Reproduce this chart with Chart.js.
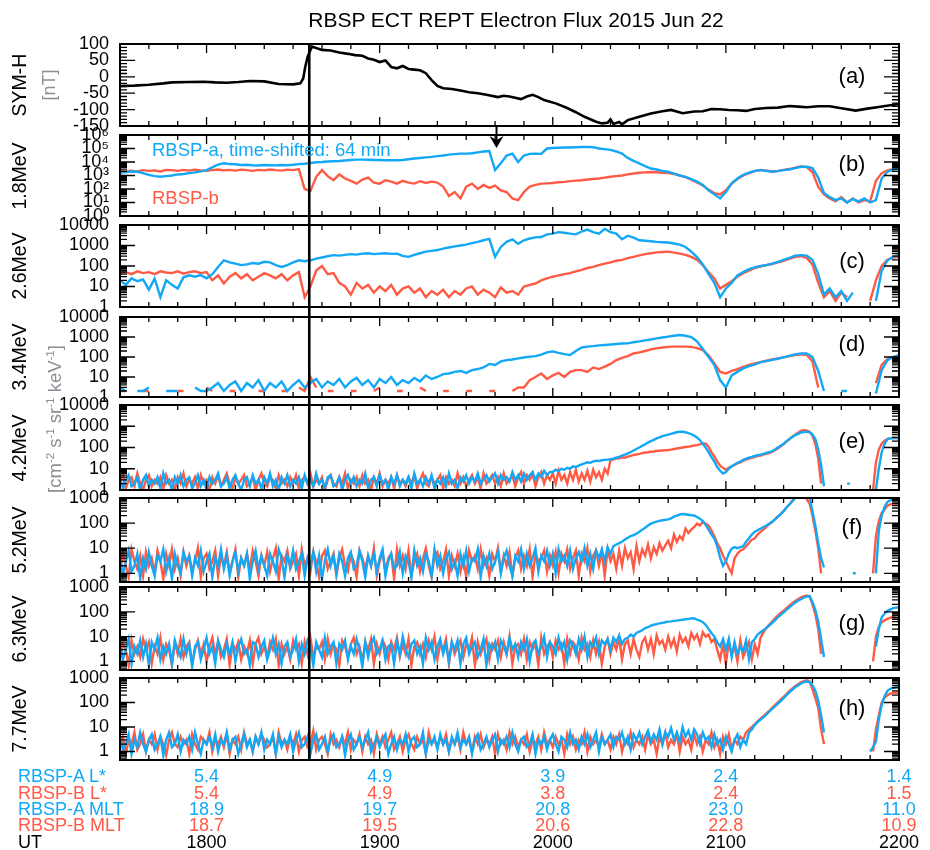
<!DOCTYPE html>
<html><head><meta charset="utf-8">
<script src="https://cdn.jsdelivr.net/npm/chart.js@4.4.1/dist/chart.umd.min.js"></script>
<style>
body{margin:0;background:#fff;}
#wrap{position:relative;width:930px;height:850px;overflow:hidden;font-family:"Liberation Sans",Arial,sans-serif;}
#wrap canvas{position:absolute;left:0;}
.t{position:absolute;white-space:nowrap;line-height:1;z-index:5;}
.t sup{font-size:0.62em;vertical-align:0.55em;line-height:0;}
</style></head><body><div id="wrap"></div>
<script>
// ---------------- DATA ----------------
const X_MIN = 1050, X_MAX = 1320;          // UT minutes (17:30 .. 22:00)
const eventTime = 1115.6;                  // vertical line (shock arrival)
const arrowTime = 1180.5;                  // arrow in panel (b)

const symhTime = [1050,1055,1060,1065,1068,1074,1079,1083,1087,1091,1095,1100,1105,1110,1112.5,1113.5,1114.2,1115,1116.5,1118,1120,1123,1126,1129,1131.5,1134,1136,1138,1140,1142,1144,1146,1148,1150,1152,1154,1156,1158,1160,1162,1165,1168,1171,1174,1177,1181,1183,1185,1189,1191,1193,1195,1197,1201,1205,1208,1211,1215,1217,1219,1220,1221,1223,1224,1226,1230,1234,1238,1241,1245,1249,1252,1255,1258,1261,1264,1267,1270,1274,1278,1282,1285,1288,1292,1296,1300,1305,1309,1313,1317,1320];
const symhValue = [-28,-27,-24,-20,-17,-16,-15,-17,-18,-16,-13,-14,-22,-23,-20,-5,30,60,92,88,82,80,74,70,66,64,56,52,45,50,30,26,33,24,22,20,11,-10,-28,-35,-37,-42,-47,-50,-55,-62,-58,-60,-68,-60,-55,-62,-71,-81,-95,-108,-122,-137,-142,-140,-130,-144,-138,-145,-132,-122,-112,-105,-101,-111,-106,-105,-98,-99,-101,-102,-104,-98,-95,-94,-89,-91,-93,-90,-90,-96,-103,-97,-92,-87,-83];

// 2-min samples (1.8, 2.6, 3.4 MeV) and 1-min samples (4.2 .. 7.7 MeV)
const fluxTime2 = [];
for (let t = X_MIN; t <= X_MAX; t += 2) fluxTime2.push(t);
const fluxTime1 = [];
for (let t = X_MIN; t <= X_MAX; t += 1) fluxTime1.push(t);

const flux18A = [1600,1800,2000,1900,1500,1100,900,800,900,1000,
 1200,1300,1500,1700,2000,2500,4000,6500,8000,7000,
 6800,6000,6200,5700,5500,6000,5800,5600,6000,5800,
 6300,7000,7500,8500,9500,10000,11000,11500,12000,13000,
 14000,15000,15000,14500,14000,14000,13500,13500,13500,14000,
 16000,18000,20000,22000,24000,27000,30000,35000,38000,42000,
 42000,45000,52000,60000,66000,2500,8000,30000,42000,10000,
 30000,40000,42000,40000,100000,110000,115000,118000,120000,125000,
 130000,132000,125000,100000,90000,80000,60000,42000,20000,12000,
 8000,5000,3300,2800,2200,1900,1400,1000,800,550,
 350,200,80,40,20,60,260,600,1100,1600,
 2200,2500,2200,1900,2100,2500,2800,3500,4400,4400,
 3500,700,50,25,15,20,10,18,12,20,
 10,15,600,1900,2800,3200];
const flux18B = [2200,2000,2300,1900,2500,2200,2400,2000,2600,2500,
 2200,2600,2300,2700,2400,2200,2500,2800,2400,2600,
 2300,2700,2500,2200,2600,2400,2800,2500,2300,2700,
 2500,3000,100,70,800,2500,900,450,1200,600,
 400,250,500,700,300,250,450,350,250,400,
 300,250,380,280,350,300,150,30,60,20,
 150,250,100,200,120,180,80,60,20,15,
 60,150,200,250,260,280,320,340,380,420,
 450,500,550,600,700,800,900,1000,1200,1400,
 1600,1700,1800,1750,1600,1500,1300,1000,750,500,
 300,180,90,50,40,80,250,550,1000,1500,
 2100,2600,2300,2000,2200,2600,3000,3800,4600,4200,
 1800,150,40,20,12,25,10,20,10,15,
 12,400,1500,2400,3000,3500];

const flux26A = [20,12,25,18,22,7,24,3,20,12,
 8,28,35,30,36,25,40,90,190,150,
 130,110,120,140,130,160,150,110,90,110,
 150,190,170,190,230,260,300,340,320,350,
 380,360,400,420,380,400,420,390,400,310,
 280,350,420,500,550,600,700,800,900,1000,
 1100,1300,1500,1800,2100,280,850,1500,2000,1200,
 1800,2200,2500,2600,3500,3800,4500,4200,3800,3500,
 4800,6000,4500,3800,6500,4500,3800,2000,3000,2400,
 1800,1700,1600,1500,1450,1400,1250,1100,850,500,
 270,120,40,15,3,8,15,35,50,70,
 85,100,110,130,160,200,250,320,340,320,
 200,40,4,8,3,6,2,5,null,2,
 null,2,60,190,280,340];
const flux26B = [45,50,40,55,45,50,40,55,48,45,
 55,42,50,55,45,50,20,35,14,30,
 45,25,40,20,30,45,35,25,40,20,
 35,50,3,10,60,100,40,45,15,10,
 4,15,8,12,5,10,6,12,4,8,
 10,5,8,3,6,4,7,3,6,4,
 8,10,4,7,5,3,9,5,6,4,
 10,12,14,20,25,30,35,40,45,55,
 65,80,90,110,130,150,180,200,240,280,
 330,380,420,460,480,500,450,400,350,280,
 200,110,50,25,8,12,18,30,45,60,
 80,95,110,125,150,180,220,280,300,250,
 120,15,3,6,2,5,3,null,null,null,
 2,20,100,200,260,280];

const flux34A = [3,2,null,2,2,3,null,null,2,2,
 2,null,null,3,2,2,3,5,2,4,
 6,2,5,3,7,2,5,3,6,2,
 4,7,3,5,8,3,6,4,8,3,
 6,9,4,7,3,8,5,10,4,7,
 5,9,6,12,8,10,14,15,18,20,
 16,22,25,30,45,40,60,70,75,85,
 95,105,110,130,170,190,160,140,125,200,
 300,330,350,380,400,420,450,470,480,550,
 600,680,750,850,950,1050,1150,1250,1150,1000,
 600,250,100,40,7,3,12,18,27,35,
 42,55,62,72,82,95,115,135,150,150,
 100,20,2,null,null,2,2,null,null,null,
 null,1.5,22,70,100,126];
const flux34B = [2,2,null,null,2,2,null,null,null,null,
 2,2,null,null,null,3,2,null,null,2,
 2,null,null,null,2,2,null,null,2,2,
 null,3,2,10,3,null,2,2,null,null,
 2,2,null,null,2,3,null,null,2,2,
 null,null,3,2,null,null,2,2,null,null,
 2,2,null,null,2,2,null,null,2,3,
 3,7,10,15,8,12,16,10,18,22,
 22,18,30,25,33,45,70,90,110,150,
 170,200,240,270,300,320,330,330,330,320,
 280,220,120,48,18,15,20,25,32,40,
 48,55,65,75,85,95,110,125,135,130,
 60,3,null,null,null,null,null,null,null,null,
 null,5,40,80,100,110];

const flux42A = [4,1.2,3,5,1.5,2,4,1,3,5,
 1.5,3,2,4,1.2,6,2,3,1,4,
 2,5,1.5,3,4,1.2,2,5,1.5,3,
 1,4,2,3,6,1.5,2,4,1.2,3,
 5,2,1,3,4,1.5,5,2,3,1.2,
 4,2,6,1.5,3,1,4,2,5,1.5,
 3,2,4,1.2,5,2,3,1.5,6,2,
 3,1.2,4,5,1.5,2,4,1,3,5,
 2,4,1.5,3,2,6,1.2,3,4,1.5,
 5,2,3,1,4,2,5,1.5,3,2,
 4,1.2,6,2,3,1.5,4,2,5,1.2,
 3,2,4,1.5,6,2,3,1.2,4,2.5,
 5,2,4,2.5,6,2,3,5,2.5,4,
 6,2,5,3,4,2.5,7,3,5,2.5,
 6,3,5,7,3,6,4,8,5,7,
 7,9,8,10,9,11,10,13,12,14,
 16,18,20,19,22,24,23,25,26,27,
 28,30,33,36,41,46,53,60,72,85,
 100,120,140,170,200,230,270,300,340,370,
 400,440,480,520,560,550,520,480,420,360,
 300,220,150,100,60,35,22,12,8,6,
 7,10,13,16,19,22,26,30,33,36,
 40,43,46,50,55,60,65,80,100,120,
 150,200,250,310,380,440,500,540,560,520,
 420,250,80,15,1.5,null,null,null,null,null,
 null,null,2,2,null,null,null,null,null,null,
 null,null,1,10,60,150,250,270,280,275,
 270];
const flux42B = [2,5,1.2,3,4,1.5,6,2,1,3,
 5,1.5,3,2,4,1.2,5,2,3,1,
 4,2,6,1.5,3,2,4,1.2,5,2,
 3,1,4,2,5,1.5,3,6,2,1.2,
 4,2,3,5,1.5,2,4,1,3,6,
 2,1.5,4,3,1.2,5,2,3,1.5,4,
 2,5,1.2,3,4,2,6,1.5,3,2,
 4,1,3,5,2,1.5,4,2,6,1.2,
 3,2,4,1.5,5,2,3,1,4,2,
 6,1.5,3,2,4,1.2,5,2,3,1.5,
 4,2,5,1.2,3,6,2,1.5,4,2,
 3,5,1.2,4,2,3,1.5,6,2,4,
 1.5,3,5,2,4,1.2,6,2,3,5,
 2,4,1.5,6,2,3,5,1.5,4,7,
 2,5,3,6,1.5,4,7,2,5,3,
 6,2,8,3,5,2,7,3,9,2.5,
 6,3,8,2.5,9,4,7,3,10,6,
 25,28,30,31,34,33,37,40,45,47,
 50,54,58,60,63,65,68,70,72,74,
 76,80,85,90,95,100,105,110,115,125,
 130,140,155,150,110,60,37,22,14,11,
 9,11,13,15,18,20,24,27,30,33,
 36,39,42,46,50,55,62,75,90,115,
 140,190,240,320,400,500,600,650,640,560,
 350,150,30,2,null,null,null,null,null,null,
 null,null,null,null,null,null,null,null,null,null,
 null,1,20,80,150,210,250,270,280,280,
 280];

const flux52A = [5,0.8,3,8,1.2,2,6,0.6,4,1.5,
 7,2,0.8,5,3,9,1.2,4,0.6,6,
 2,1,7,3,5,0.8,4,2,8,1.2,
 3,6,0.7,4,2,9,1.5,5,0.8,3,
 7,1.2,4,2,6,0.6,3,8,1.5,5,
 2,0.8,6,3,1.2,9,4,0.7,5,2,
 8,1.5,3,6,0.8,4,2,7,1.2,5,
 0.6,3,9,2,5,1,6,3,0.8,4,
 7,1.5,2,8,3,0.7,5,2,6,1.2,
 4,9,0.8,3,6,1.5,2,7,1,5,
 3,0.7,8,2,4,1.2,6,3,0.8,9,
 2,5,1,4,7,1.5,3,0.8,6,2,
 8,1.2,4,3,9,0.7,5,2,6,1.5,
 3,7,1,4,8,2,0.8,5,3,9,
 1.5,6,2,4,10,1.2,5,3,8,2,
 6,1,9,3,5,2,8,1.5,4,7,
 3,10,2,6,1.5,8,4,9,3,11,
 6,12,14,16,18,22,26,30,33,38,
 45,55,65,80,95,105,115,122,130,135,
 141,155,180,200,220,230,225,215,205,200,
 175,150,120,85,55,35,24,12,4.2,2,
 3,6,9.5,11,10,11,12,18,25,35,
 45,52,60,70,80,95,112,140,180,230,
 300,420,550,750,1000,1300,1500,1600,1500,1100,
 300,80,16,4,1.7,null,null,null,null,null,
 null,null,null,null,1,1,null,null,null,null,
 null,null,1,50,200,450,700,800,900,920,
 900];
const flux52B = [1.2,6,2,0.7,9,3,1.5,5,0.8,7,
 2,4,1,8,3,0.6,6,2,9,1.5,
 4,0.8,7,2,5,1.2,3,10,0.7,4,
 6,1.5,3,8,0.8,5,2,7,1.2,3,
 9,0.7,4,2,6,1.5,8,3,0.8,5,
 2,7,1.2,4,10,0.6,5,3,8,1.5,
 3,6,0.8,9,2,4,1.2,7,3,0.7,
 5,8,1.5,3,6,0.8,4,9,2,1.2,
 6,3,0.7,8,4,1.5,5,2,10,0.8,
 3,7,1.2,4,6,0.6,9,2,5,1.5,
 8,0.8,3,6,1.2,4,10,2,0.7,5,
 7,1.5,3,9,0.8,5,2,6,1.2,4,
 0.7,8,3,5,1.5,9,2,4,0.8,6,
 3,10,1.2,5,2,7,0.8,4,8,1.5,
 5,2,9,0.7,6,3,4,8,1.2,5,
 2,7,1,6,3,9,1.5,4,8,0.8,
 6,3,10,1.2,5,8,2,7,0.8,9,
 3,6,1.5,8,2,10,4,7,1.5,12,
 3,9,5,14,4,11,6,16,8,13,
 20,10,35,18,30,22,60,40,55,70,
 95,80,110,95,80,50,30,16,10,5,
 3,1.7,1,4,6,8,9,12,16,22,
 25,35,45,55,70,90,110,140,180,230,
 300,420,550,750,1000,1200,1400,1300,900,600,
 200,50,10,1,null,null,null,null,null,null,
 null,null,null,null,null,null,null,null,null,null,
 null,1,30,120,250,350,500,560,600,600,
 600];

const flux63A = [6,1.2,3,8,0.8,4,2,7,1.5,5,
 0.7,6,3,9,1.2,4,2,5,0.8,7,
 3,1.5,8,2,5,0.6,4,6,1.2,3,
 9,2,4,0.8,7,3,1.5,5,2,6,
 1,4,8,2,3,0.7,6,5,1.5,4,
 7,1.2,3,9,2,5,0.8,4,6,1.5,
 3,8,1,5,2,7,4,0.7,6,3,
 1.5,9,2,4,6,0.8,5,3,7,1.2,
 4,2,8,3,0.6,6,1.5,5,9,2,
 3,7,1.2,4,5,0.8,6,2,10,3,
 1.5,5,7,2,4,0.8,9,3,6,1.2,
 4,8,2,5,1,6,3,7,0.8,5,
 9,2,4,6,1.5,3,8,0.7,5,3,
 6,1.2,7,4,2,9,3,5,1.5,6,
 3,8,1,5,7,2,4,10,1.5,6,
 4,2,9,3,6,1.2,7,5,2,8,
 3,10,1.5,6,4,9,2,7,5,8,
 3,9,6,11,5,8,9,12,10,14,
 16,18,22,24,28,30,32,34,36,38,
 40,41,43,44,46,48,50,52,54,55,
 48,44,38,30,20,14,10,6,4,8,
 3,8,1.5,6,2,4,2.5,7,1.2,6,
 8,12,15,18,22,28,35,45,60,75,
 95,120,150,190,230,280,320,370,420,430,
 250,120,40,8,1.5,null,null,null,null,null,
 null,null,null,null,null,null,null,null,null,null,
 null,null,4,20,60,85,110,125,140,148,
 150];
const flux63B = [1.2,5,3,0.7,7,2,4,1.5,8,3,
 6,0.8,4,2,9,1.2,5,3,0.7,6,
 2,8,1.5,4,6,0.8,3,7,2,5,
 1,4,9,2,6,1.5,3,8,0.7,5,
 3,6,1.2,4,2,7,0.8,5,9,2,
 4,1.5,6,3,8,0.7,5,2,4,1.2,
 7,3,5,0.8,6,2,9,1.5,4,3,
 6,1.2,8,2,5,3,0.7,7,4,1.5,
 5,9,2,4,1,6,3,8,0.8,5,
 2,7,4,1.2,6,3,9,1.5,5,2,
 8,0.7,4,6,2,5,1.5,7,3,10,
 1.2,5,3,8,0.8,6,2,4,7,1.5,
 5,3,9,0.7,6,2,4,8,1.2,5,
 3,7,1.5,6,2,10,0.8,4,5,2,
 8,1.2,6,3,5,0.7,9,2,4,6,
 1.5,7,3,5,0.8,8,2,6,4,1.2,
 9,3,5,1.5,7,2,6,0.8,4,8,
 2,6,3,9,1.2,5,7,2,8,3,
 1.5,6,9,3,8,2,11,5,7,3,
 10,4,8,2.5,12,6,9,4,14,8,
 12,5,15,10,12,6,8,3,1.2,5,
 0.8,6,2,4,1,7,1.5,3,6,1.2,
 5,2,9,15,22,30,40,55,70,90,
 110,140,175,220,270,320,380,420,450,420,
 200,80,20,2,null,null,null,null,null,null,
 null,null,null,null,null,null,null,null,null,null,
 null,1,10,25,38,45,52,58,60,55,
 45];

const flux77A = [4,1.2,2,5,0.8,3,1.5,6,2,1,
 3,5,1.2,2,4,0.7,3,6,1.5,2,
 5,1,3,2,4,1.2,6,2,0.8,3,
 2,4,1.5,5,1,3,2,6,1.2,3,
 4,0.8,2,5,1.5,3,1,4,2,6,
 1.2,3,2,5,0.8,4,1.5,3,2,5,
 1,3,6,1.5,2,4,0.8,3,5,1.2,
 2,4,1,3,5,1.5,2,4,0.7,3,
 5,1.2,2,4,1.5,3,6,1,2,4,
 1.5,3,5,0.8,2,4,1.2,3,2,5,
 1,3,4,1.5,2,6,0.8,3,2,4,
 1.2,5,2,3,1,4,2,6,1.5,3,
 2,4,0.8,3,5,1.2,2,4,1.5,3,
 5,1,3,2,4,1.5,6,2,1,3,
 4,1.5,2,5,0.8,3,2,4,1.2,3,
 5,2,1,4,3,1.5,6,2,3,1.2,
 4,2,5,1.5,3,6,1,4,2,3,
 5,1.5,4,3,6,2,4,1.2,5,3,
 6,2,4,7,2.5,5,3,8,2,6,
 4,9,3,6,2.5,10,4,7,3,8,
 5,2,6,3,4,1.5,5,2,3,1.2,
 4,2,1,3,5,1.5,3,2,6,8,
 12,16,20,25,32,42,55,70,90,115,
 150,200,260,330,420,500,600,680,720,700,
 500,300,120,30,6,null,null,null,null,null,
 null,null,null,null,null,null,null,null,null,null,
 1,1.5,2.5,20,80,180,300,360,400,430,
 450];
const flux77B = [1.5,4,0.8,3,2,6,1.2,2,5,1,
 3,2,5,1.2,4,2,0.7,3,6,2,
 1.5,4,2,3,0.8,5,2,1.2,4,3,
 2,6,1,3,2,4,1.5,5,0.8,3,
 2,4,1.2,6,2,3,1,4,2,5,
 3,1.5,2,4,0.8,6,2,3,1.2,4,
 2,5,1,3,4,1.5,2,7,1.2,3,
 4,2,0.8,5,2,3,1.5,4,2,6,
 1.2,3,2,5,1,4,2,3,0.8,5,
 2,4,1.5,3,6,1.2,2,4,1,3,
 5,2,1.2,4,2,3,0.8,6,2,3,
 1.5,4,2,5,1,3,2,4,1.2,6,
 2,3,1,4,2,5,1.5,3,2,4,
 0.8,5,2,3,1.2,6,2,4,1.5,3,
 2,5,1,3,2,4,1.2,6,2,3,
 1.5,4,2,3,0.8,5,2,4,1.2,3,
 2,6,1,4,2,3,1.5,5,2,3,
 1.2,4,2,5,1,3,2,6,1.5,3,
 2,4,1.2,5,2,3,0.8,4,2,6,
 1.5,3,2,5,1,4,2,3,1.2,5,
 2,4,1,3,2,6,1.5,3,0.8,4,
 2,5,1.2,3,2,4,3,6,8,10,
 13,17,22,28,36,45,60,78,100,130,
 170,220,290,370,460,560,660,750,800,720,
 350,150,60,8,2,null,null,null,null,null,
 null,null,null,null,null,null,null,null,null,null,
 null,1,8,30,100,160,200,230,250,255,
 250];

const energyLabels = ['1.8MeV','2.6MeV','3.4MeV','4.2MeV','5.2MeV','6.3MeV','7.7MeV'];
const panelLetters = ['(a)','(b)','(c)','(d)','(e)','(f)','(g)','(h)'];
const utTickTimes = [1080,1140,1200,1260,1320];
const utLabels   = ['1800','1900','2000','2100','2200'];
const lStarA = ['5.4','4.9','3.9','2.4','1.4'];
const lStarB = ['5.4','4.9','3.8','2.4','1.5'];
const mltA   = ['18.9','19.7','20.8','23.0','11.0'];
const mltB   = ['18.7','19.5','20.6','22.8','10.9'];

// ---------------- LAYOUT / STYLE ----------------
const BLUE = '#12a8f6', RED = '#ff5a44', GRAY = '#928a94';
const FONT = '"Liberation Sans", Arial, sans-serif';
const panelTop    = [44,135,225,317,405,498,587,678];
const panelHeight = [82,81,82,80,85,84,83,82];
const PAD = 16, RIGHT_PAD = 31, AXIS_W = 120;
const wrap = document.getElementById('wrap');

const sup = {'0':'⁰','1':'¹','2':'²','3':'³','4':'⁴','5':'⁵','6':'⁶'};

function logTicks(min, max) {
  const out = [];
  for (let e = Math.floor(Math.log10(min)); e <= Math.ceil(Math.log10(max)); e++) {
    for (let k = 1; k <= 9; k++) {
      const v = k * Math.pow(10, e);
      if (v >= min * 0.999 && v <= max * 1.001) out.push([v, k === 1]);
    }
  }
  return out;
}

function pairs(times, arr) { return times.map((t, i) => ({x: t, y: arr[i]})); }

function makePanel(i, cfg) {
  const c = document.createElement('canvas');
  const h = panelHeight[i] + 2 * PAD;
  c.width = 930; c.height = h;
  c.style.top = (panelTop[i] - PAD) + 'px';
  c.style.width = '930px'; c.style.height = h + 'px';
  wrap.appendChild(c);
  const gapAbove = i === 0 ? 0 : panelTop[i] - (panelTop[i-1] + panelHeight[i-1]);
  const plugin = {
    id: 'frame' + i,
    afterDraw(chart) {
      const ctx = chart.ctx, a = chart.chartArea, xs = chart.scales.x, ys = chart.scales.y;
      ctx.save();
      ctx.strokeStyle = '#000';
      ctx.lineWidth = 1.3;
      ctx.beginPath();
      for (let m = X_MIN; m <= X_MAX; m += 10) {
        const px = xs.getPixelForValue(m);
        const L = (m % 60 === 0) ? 9 : 5;
        ctx.moveTo(px, a.top); ctx.lineTo(px, a.top + L);
        ctx.moveTo(px, a.bottom); ctx.lineTo(px, a.bottom - L);
      }
      for (const [v, major] of cfg.minorTicks) {
        const py = ys.getPixelForValue(v);
        const L = major ? 15 : 7;
        ctx.moveTo(a.left, py); ctx.lineTo(a.left + L, py);
        ctx.moveTo(a.right, py); ctx.lineTo(a.right - L, py);
      }
      ctx.stroke();
      ctx.lineWidth = 2;
      ctx.strokeRect(a.left, a.top, a.right - a.left, a.bottom - a.top);
      const ex = xs.getPixelForValue(eventTime);
      ctx.lineWidth = 2.6;
      ctx.beginPath(); ctx.moveTo(ex, a.top - gapAbove - 1); ctx.lineTo(ex, a.bottom + 1); ctx.stroke();
      if (cfg.arrow) {
        const ax = xs.getPixelForValue(arrowTime);
        const tip = a.top + 13;
        ctx.lineWidth = 2;
        ctx.beginPath(); ctx.moveTo(ax, a.top - 9); ctx.lineTo(ax, tip - 6); ctx.stroke();
        ctx.fillStyle = '#000';
        ctx.beginPath();
        ctx.moveTo(ax, tip); ctx.lineTo(ax - 7, tip - 12); ctx.lineTo(ax, tip - 8); ctx.lineTo(ax + 7, tip - 12);
        ctx.closePath(); ctx.fill();
      }
      ctx.restore();
    }
  };
  return new Chart(c, {
    type: 'line',
    data: {datasets: cfg.datasets},
    options: {
      responsive: false, animation: false, devicePixelRatio: 1,
      layout: {padding: {top: PAD, bottom: PAD, left: 0, right: RIGHT_PAD}},
      plugins: {legend: {display: false}, tooltip: {enabled: false}},
      elements: {point: {radius: 0}, line: {tension: 0}},
      scales: {
        x: {type: 'linear', min: X_MIN, max: X_MAX, display: false},
        y: {
          type: cfg.log ? 'logarithmic' : 'linear', min: cfg.min, max: cfg.max,
          afterFit: s => { s.width = AXIS_W; },
          afterBuildTicks: s => { s.ticks = cfg.labelTicks.map(v => ({value: v})); },
          grid: {display: false}, border: {display: false},
          ticks: {autoSkip: false, padding: 3, color: '#000', maxRotation: 0,
                  font: {family: FONT, size: 18}, callback: cfg.fmt}
        }
      }
    },
    plugins: [plugin]
  });
}

function ds(times, arr, color, w) {
  return {data: pairs(times, arr), borderColor: color, borderWidth: w || 2.4, spanGaps: false, clip: 0, pointRadius: 0};
}

// Panel (a): SYM-H
const symhTicks = [];
for (let v = -150; v <= 100; v += 10) symhTicks.push([v, v % 50 === 0]);
makePanel(0, {
  log: false, min: -150, max: 100,
  labelTicks: [-150,-100,-50,0,50,100], fmt: v => String(v), minorTicks: symhTicks,
  datasets: [{data: symhTime.map((t, i) => ({x: t, y: symhValue[i]})), borderColor: '#000', borderWidth: 2.6, clip: 0, pointRadius: 0}]
});

const fluxPanels = [
  {T: fluxTime2, A: flux18A, B: flux18B, min: 1, max: 1e6, labels: [1,10,100,1e3,1e4,1e5,1e6], sup: true, arrow: true},
  {T: fluxTime2, A: flux26A, B: flux26B, min: 1, max: 1e4, labels: [1,10,100,1000,10000]},
  {T: fluxTime2, A: flux34A, B: flux34B, min: 1, max: 1e4, labels: [1,10,100,1000,10000]},
  {T: fluxTime1, A: flux42A, B: flux42B, min: 1, max: 1e4, labels: [1,10,100,1000,10000]},
  {T: fluxTime1, A: flux52A, B: flux52B, min: 0.45, max: 1000, labels: [1,10,100,1000]},
  {T: fluxTime1, A: flux63A, B: flux63B, min: 0.45, max: 1000, labels: [1,10,100,1000]},
  {T: fluxTime1, A: flux77A, B: flux77B, min: 0.45, max: 1000, labels: [1,10,100,1000]}
];
let lastChart;
fluxPanels.forEach((p, k) => {
  lastChart = makePanel(k + 1, {
    log: true, min: p.min, max: p.max, labelTicks: p.labels, arrow: !!p.arrow,
    fmt: p.sup ? (v => '10' + sup[String(Math.round(Math.log10(v)))]) : (v => String(v)),
    minorTicks: logTicks(p.min, p.max),
    datasets: [ds(p.T, p.A, BLUE), ds(p.T, p.B, RED)]
  });
});

// ---------------- TEXT ----------------
function txt(s, x, y, o) {
  o = o || {};
  const d = document.createElement('div');
  d.className = 't'; d.innerHTML = s;
  d.style.left = x + 'px'; d.style.top = y + 'px';
  d.style.fontSize = (o.size || 18) + 'px';
  d.style.color = o.color || '#000';
  const ax = o.align === 'left' ? '0' : (o.align === 'right' ? '-100%' : '-50%');
  d.style.transform = 'translate(' + ax + ',-50%)' + (o.rot ? ' rotate(-90deg)' : '');
  wrap.appendChild(d);
}
txt('RBSP ECT REPT Electron Flux 2015 Jun 22', 516, 19, {size: 21});
txt('SYM-H', 20, 85, {size: 19.5, rot: true});
txt('[nT]', 49, 85, {size: 18, rot: true, color: GRAY});
energyLabels.forEach((s, k) => {
  const i = k + 1;
  txt(s, 20, panelTop[i] + panelHeight[i] / 2, {size: 19.5, rot: true});
});
txt('[cm<sup>-2</sup> s<sup>-1</sup> sr<sup>-1</sup> keV<sup>-1</sup>]', 55, 419, {size: 18.5, rot: true, color: GRAY});
const letterY = [76,164,261,344,441,527,623,708];
panelLetters.forEach((s, i) => txt(s, 852, letterY[i], {size: 22}));
txt('RBSP-a, time-shifted: 64 min', 152, 150, {size: 18.5, align: 'left', color: BLUE});
txt('RBSP-b', 152, 198, {size: 18.5, align: 'left', color: RED});

const rows = [
  {name: 'RBSP-A L*', vals: lStarA, color: BLUE, y: 776},
  {name: 'RBSP-B L*', vals: lStarB, color: RED, y: 793},
  {name: 'RBSP-A MLT', vals: mltA, color: BLUE, y: 809},
  {name: 'RBSP-B MLT', vals: mltB, color: RED, y: 825},
  {name: 'UT', vals: utLabels, color: '#000', y: 842}
];
const xs = lastChart.scales.x;
rows.forEach(r => {
  txt(r.name, 18, r.y, {size: 18, align: 'left', color: r.color});
  r.vals.forEach((v, i) => txt(v, xs.getPixelForValue(utTickTimes[i]), r.y, {size: 18, color: r.color}));
});
</script></body></html>
